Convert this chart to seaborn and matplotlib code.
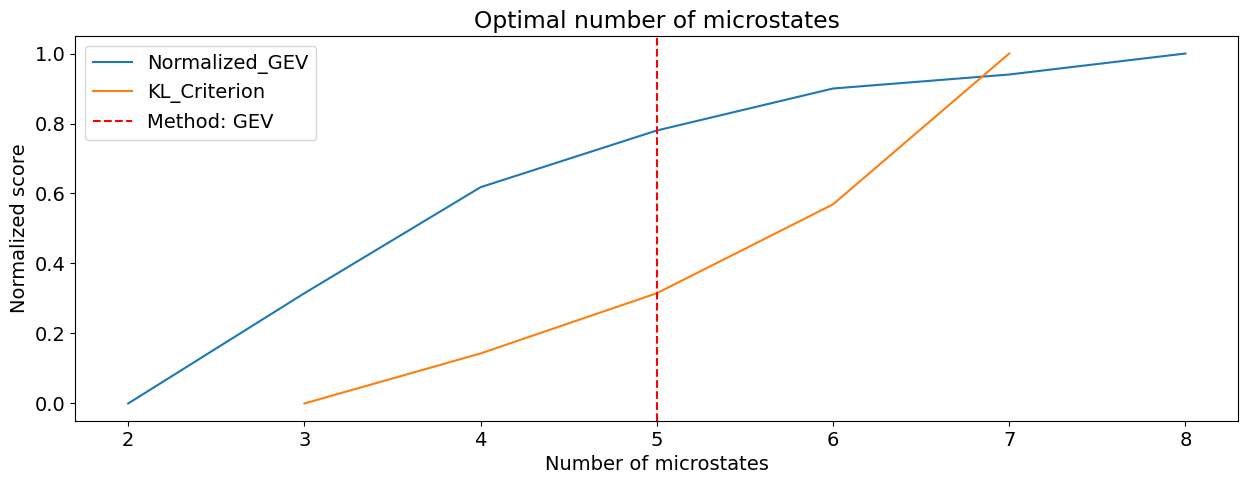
import matplotlib
matplotlib.use("Agg")
import matplotlib.pyplot as plt
import seaborn as sns
import pandas as pd

n_states_gev = [2, 3, 4, 5, 6, 7, 8]
normalized_gev = [0.0, 0.315, 0.618, 0.78, 0.90, 0.94, 1.0]
n_states_kl = [3, 4, 5, 6, 7]
kl_criterion = [0.0, 0.143, 0.315, 0.569, 1.0]
chosen_k = 5

plt.rcParams['font.size'] = 14
fig, ax = plt.subplots(figsize=(12.47, 4.84), dpi=100)
fig.subplots_adjust(left=0.0604, right=0.993, top=0.9256, bottom=0.1302)

df_gev = pd.DataFrame({"k": n_states_gev, "score": normalized_gev})
df_kl = pd.DataFrame({"k": n_states_kl, "score": kl_criterion})
sns.lineplot(data=df_gev, x="k", y="score", ax=ax, color="#1f77b4", label="Normalized_GEV")
sns.lineplot(data=df_kl, x="k", y="score", ax=ax, color="#ff7f0e", label="KL_Criterion")
ax.axvline(chosen_k, color="red", linestyle="--", label="Method: GEV")

ax.set_title("Optimal number of microstates")
ax.set_xlabel("Number of microstates")
ax.set_ylabel("Normalized score")
ax.legend(loc="upper left")
fig.savefig("out.png", dpi=100)
